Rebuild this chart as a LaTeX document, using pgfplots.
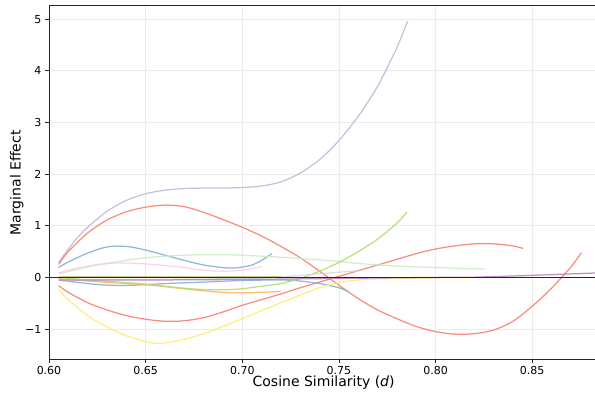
\documentclass[border=0pt]{standalone}
\usepackage{pgfplots}
\pgfplotsset{compat=1.18}
\usepackage{fontspec}
\setmainfont{DejaVu Sans}
\definecolor{cLav}{HTML}{BEBADA}
\definecolor{cSal}{HTML}{FB8072}
\definecolor{cBlu}{HTML}{80B1D3}
\definecolor{cLgr}{HTML}{CCEBC5}
\definecolor{cPnk}{HTML}{FCCDE5}
\definecolor{cYel}{HTML}{FFED6F}
\definecolor{cOra}{HTML}{FDB462}
\definecolor{cLim}{HTML}{B3DE69}
\definecolor{cGry}{HTML}{D9D9D9}
\definecolor{cPur}{HTML}{BC80BD}
\definecolor{cOli}{HTML}{A8A850}
\definecolor{gridc}{HTML}{EBEBEB}
\begin{document}
\begin{tikzpicture}
\begin{axis}[
  at={(0,0)}, anchor=south west,
  width=546pt, height=353.5pt, scale only axis,
  xmin=0.6, xmax=0.8825, ymin=-1.58, ymax=5.265,
  axis x line*=bottom, axis y line*=left,
  axis line style={line width=0.9pt, color=black!85},
  xtick={0.60,0.65,0.70,0.75,0.80,0.85},
  xticklabels={0.60,0.65,0.70,0.75,0.80,0.85},
  ytick={-1,0,1,2,3,4,5},
  yticklabels={−1,0,1,2,3,4,5},
  tick align=outside, major tick length=4pt,
  tick style={line width=0.8pt, color=black!85},
  ticklabel style={font=\fontsize{11}{13}\selectfont},
  grid=major, major grid style={gridc, line width=0.8pt},
  xlabel={Cosine Similarity (\textit{d})},
  ylabel={Marginal Effect},
  label style={font=\fontsize{14}{16}\selectfont},
  xlabel style={at={(axis description cs:0.503,0)}, anchor=center, yshift=-24pt},
  ylabel style={at={(axis description cs:-0.0592,0.4986)}, anchor=center},
  every axis plot/.append style={line width=1.25pt, smooth, no markers, opacity=0.9},
  clip=true,
]
% lavender
\addplot[cLav] coordinates {(0.605,0.29)(0.61,0.55)(0.615,0.78)(0.62,0.97)(0.63,1.28)(0.64,1.49)(0.65,1.62)(0.66,1.69)(0.67,1.72)(0.68,1.73)(0.69,1.73)(0.70,1.74)(0.71,1.77)(0.72,1.85)(0.73,2.02)(0.74,2.28)(0.75,2.65)(0.76,3.12)(0.77,3.7)(0.78,4.45)(0.7855,4.96)};
% salmon long
\addplot[cSal] coordinates {(0.605,0.25)(0.61,0.5)(0.62,0.86)(0.63,1.11)(0.64,1.27)(0.65,1.36)(0.66,1.40)(0.67,1.37)(0.68,1.26)(0.69,1.12)(0.70,0.97)(0.71,0.80)(0.72,0.60)(0.73,0.38)(0.74,0.12)(0.75,-0.15)(0.76,-0.41)(0.77,-0.63)(0.78,-0.80)(0.79,-0.95)(0.80,-1.05)(0.81,-1.10)(0.82,-1.09)(0.83,-1.02)(0.84,-0.85)(0.85,-0.56)(0.86,-0.21)(0.87,0.2)(0.8755,0.48)};
% salmon second
\addplot[cSal] coordinates {(0.605,-0.16)(0.61,-0.29)(0.62,-0.49)(0.63,-0.63)(0.64,-0.74)(0.65,-0.81)(0.66,-0.85)(0.67,-0.84)(0.68,-0.78)(0.69,-0.67)(0.70,-0.54)(0.71,-0.43)(0.72,-0.32)(0.73,-0.2)(0.74,-0.09)(0.75,0.02)(0.76,0.13)(0.77,0.24)(0.78,0.35)(0.79,0.46)(0.80,0.55)(0.81,0.61)(0.82,0.65)(0.83,0.65)(0.84,0.61)(0.8454,0.56)};
% blue upper
\addplot[cBlu] coordinates {(0.605,0.19)(0.61,0.3)(0.62,0.47)(0.63,0.59)(0.64,0.6)(0.65,0.53)(0.66,0.43)(0.67,0.33)(0.68,0.24)(0.69,0.19)(0.695,0.18)(0.70,0.2)(0.705,0.24)(0.71,0.33)(0.7154,0.46)};
% blue lower
\addplot[cBlu] coordinates {(0.605,-0.05)(0.62,-0.12)(0.63,-0.15)(0.64,-0.155)(0.65,-0.14)(0.66,-0.12)(0.68,-0.09)(0.70,-0.06)(0.72,-0.05)(0.73,-0.07)(0.74,-0.12)(0.75,-0.2)(0.755,-0.28)};
% light green
\addplot[cLgr] coordinates {(0.605,0.07)(0.62,0.2)(0.63,0.27)(0.64,0.33)(0.65,0.38)(0.66,0.41)(0.67,0.43)(0.68,0.44)(0.69,0.44)(0.70,0.43)(0.72,0.39)(0.74,0.34)(0.75,0.31)(0.76,0.27)(0.78,0.22)(0.80,0.19)(0.8256,0.16)};
% pink
\addplot[cPnk] coordinates {(0.605,0.08)(0.61,0.14)(0.62,0.22)(0.63,0.27)(0.64,0.28)(0.65,0.26)(0.66,0.23)(0.67,0.19)(0.68,0.14)(0.69,0.12)(0.70,0.14)(0.7102,0.21)};
% yellow
\addplot[cYel] coordinates {(0.605,-0.24)(0.61,-0.43)(0.62,-0.74)(0.63,-0.96)(0.64,-1.13)(0.65,-1.24)(0.655,-1.28)(0.66,-1.27)(0.67,-1.20)(0.68,-1.09)(0.69,-0.95)(0.70,-0.80)(0.71,-0.64)(0.72,-0.49)(0.73,-0.34)(0.74,-0.2)(0.75,-0.1)(0.76,-0.05)(0.77,-0.03)(0.78,-0.02)(0.80,-0.01)(0.82,-0.005)};
% orange
\addplot[cOra] coordinates {(0.605,-0.02)(0.62,-0.07)(0.64,-0.12)(0.65,-0.14)(0.66,-0.18)(0.67,-0.22)(0.68,-0.26)(0.69,-0.29)(0.70,-0.30)(0.71,-0.29)(0.72,-0.27)};
% lime
\addplot[cLim] coordinates {(0.605,0.0)(0.62,-0.05)(0.64,-0.1)(0.65,-0.13)(0.66,-0.17)(0.67,-0.21)(0.68,-0.235)(0.69,-0.24)(0.70,-0.22)(0.71,-0.17)(0.72,-0.12)(0.73,-0.02)(0.74,0.12)(0.75,0.29)(0.76,0.5)(0.77,0.74)(0.78,1.05)(0.7853,1.27)};
% gray
\addplot[cGry] coordinates {(0.605,-0.04)(0.65,-0.04)(0.70,-0.02)(0.72,0.01)(0.74,0.07)(0.76,0.13)};
% purple
\addplot[cPur] coordinates {(0.605,-0.05)(0.65,-0.05)(0.70,-0.04)(0.75,-0.02)(0.80,0.0)(0.82,0.005)(0.85,0.04)(0.8825,0.085)};
% olive near zero
\addplot[cOli, line width=0.6pt, opacity=0.6] coordinates {(0.605,0.015)(0.66,0.015)(0.72,0.015)};
% zero line
\addplot[black!85, line width=1.1pt, sharp plot, opacity=1] coordinates {(0.6,0)(0.8825,0)};
\draw[line width=0.9pt, black!85] (rel axis cs:0,1) -- (rel axis cs:1,1);
\end{axis}
\pgfresetboundingbox
\path[use as bounding box] (-49pt,-37pt) rectangle (546pt,359pt);
\end{tikzpicture}
\end{document}
